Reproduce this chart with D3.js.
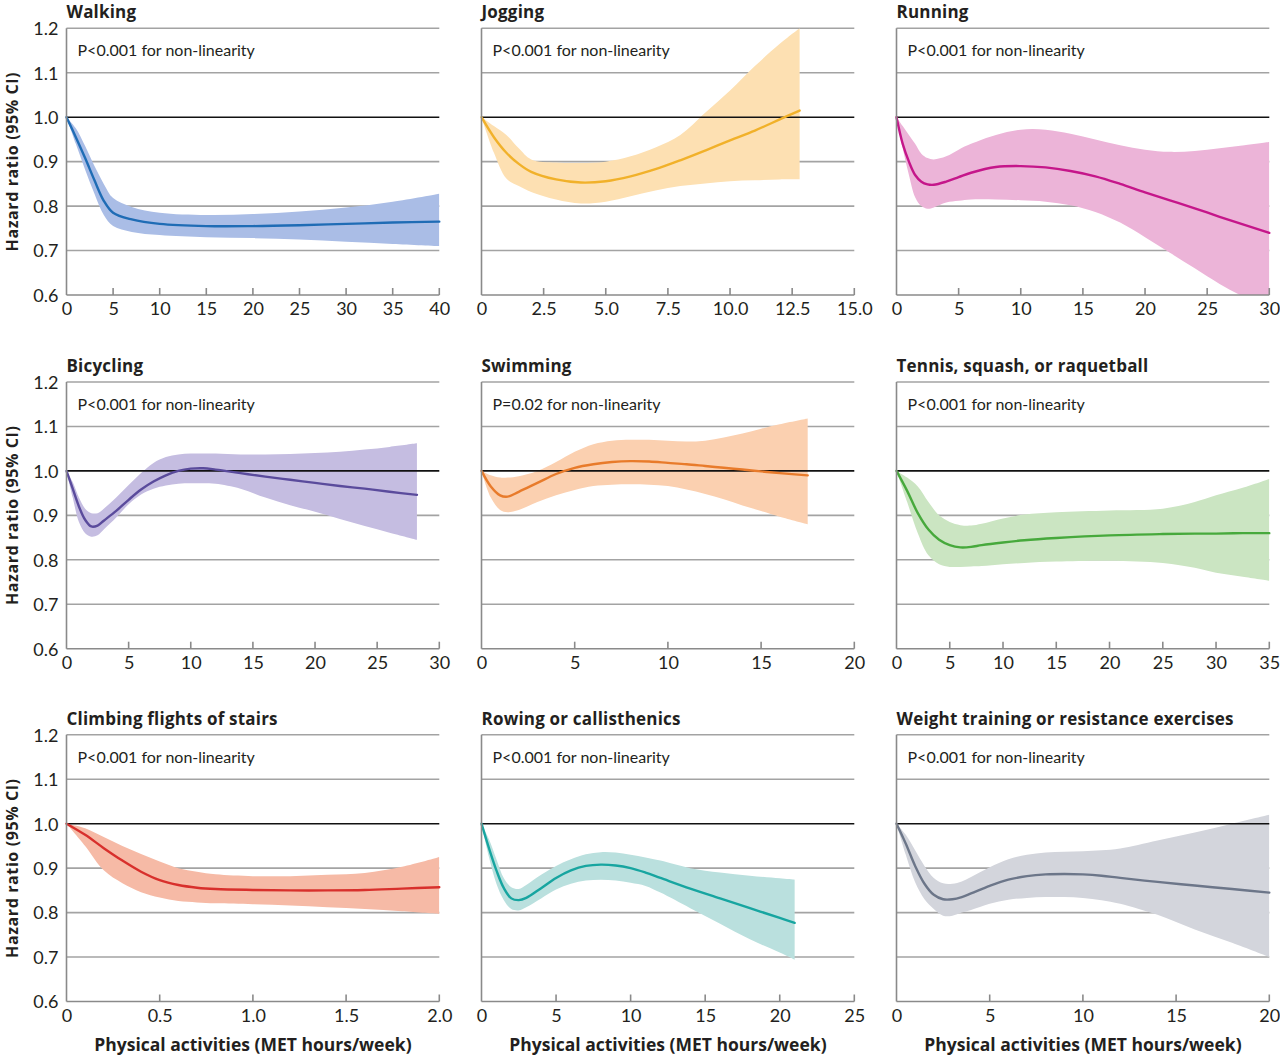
<!DOCTYPE html>
<html><head><meta charset="utf-8">
<script src="https://cdn.jsdelivr.net/npm/d3@7"></script>
<style>
html,body{margin:0;padding:0;background:#fff;}
svg{display:block;}
text{font-family:Lato,"Open Sans",sans-serif;fill:#231f20;}
.bold{font-family:"Open Sans",Lato,sans-serif;font-weight:bold;}
</style></head><body>
<svg id="chart" width="1280" height="1057"></svg>
<script>
// ---- DATA ----
const titles = ["Walking","Jogging","Running","Bicycling","Swimming","Tennis, squash, or raquetball","Climbing flights of stairs","Rowing or callisthenics","Weight training or resistance exercises"];
const pTexts = ["P<0.001 for non-linearity","P<0.001 for non-linearity","P<0.001 for non-linearity","P<0.001 for non-linearity","P=0.02 for non-linearity","P<0.001 for non-linearity","P<0.001 for non-linearity","P<0.001 for non-linearity","P<0.001 for non-linearity"];
const yTicks = [0.6,0.7,0.8,0.9,1.0,1.1,1.2];
const yTickLabels = ["0.6","0.7","0.8","0.9","1.0","1.1","1.2"];
const xMax = [40,15,30,30,20,35,2,25,20];
const xTicks = [[0,5,10,15,20,25,30,35,40],[0,2.5,5,7.5,10,12.5,15],[0,5,10,15,20,25,30],[0,5,10,15,20,25,30],[0,5,10,15,20],[0,5,10,15,20,25,30,35],[0,0.5,1,1.5,2],[0,5,10,15,20,25],[0,5,10,15,20]];
const xTickLabels = [["0","5","10","15","20","25","30","35","40"],["0","2.5","5.0","7.5","10.0","12.5","15.0"],["0","5","10","15","20","25","30"],["0","5","10","15","20","25","30"],["0","5","10","15","20"],["0","5","10","15","20","25","30","35"],["0","0.5","1.0","1.5","2.0"],["0","5","10","15","20","25"],["0","5","10","15","20"]];
const lineColors = ["#1f6cb5","#f1b12a","#c5168a","#5a4b9c","#e87b2b","#47a93c","#d8302c","#17a5a0","#6c7689"];
const bandColors = ["#aabde6","#fde0b2","#ecb4d8","#c5bde1","#fbd0b0","#cbe5c2","#f6baa6","#bae0de","#d3d5dc"];

const walkingX  = [0,1,2,3,4,5,7,10,15,20,25,30,35,40];
const walkingHR = [1.0,0.955,0.908,0.858,0.812,0.785,0.77,0.76,0.755,0.755,0.757,0.76,0.763,0.765];
const walkingHi = [1.0,0.975,0.935,0.89,0.85,0.818,0.798,0.785,0.78,0.782,0.788,0.797,0.81,0.828];
const walkingLo = [1.0,0.94,0.882,0.828,0.78,0.755,0.742,0.735,0.73,0.728,0.725,0.72,0.715,0.71];

const joggingX  = [0,0.5,1,1.5,2,3,4,5,6,7,8,9,10,11,12,12.8];
const joggingHR = [1,0.955,0.92,0.895,0.877,0.86,0.853,0.856,0.867,0.883,0.903,0.925,0.948,0.97,0.995,1.015];
const joggingHi = [1,0.98,0.96,0.93,0.905,0.898,0.897,0.9,0.912,0.932,0.96,1.01,1.06,1.115,1.165,1.2];
const joggingLo = [1,0.92,0.862,0.845,0.832,0.815,0.806,0.81,0.822,0.835,0.845,0.851,0.856,0.858,0.86,0.86];

const runningX  = [0,0.5,1,1.5,2,2.5,3,4,5,6,8,10,12,14,16,18,20,22,24,26,28,30];
const runningHR = [1,0.94,0.9,0.87,0.855,0.849,0.848,0.855,0.865,0.875,0.888,0.89,0.887,0.879,0.867,0.85,0.831,0.813,0.795,0.776,0.758,0.74];
const runningHi = [1,0.98,0.96,0.94,0.918,0.908,0.905,0.912,0.927,0.94,0.96,0.972,0.972,0.963,0.95,0.937,0.927,0.922,0.924,0.93,0.937,0.944];
const runningLo = [1,0.93,0.87,0.82,0.8,0.794,0.797,0.808,0.812,0.815,0.815,0.813,0.81,0.802,0.787,0.763,0.73,0.695,0.66,0.625,0.595,0.57];

const bicyclingX  = [0,0.5,1,1.5,2,2.5,3,4,5,6,7,8,9,10,11,12,14,16,18,20,22,24,26,28.2];
const bicyclingHR = [1,0.96,0.92,0.89,0.875,0.877,0.888,0.91,0.935,0.958,0.976,0.99,1.0,1.005,1.006,1.003,0.995,0.987,0.98,0.973,0.966,0.96,0.953,0.946];
const bicyclingHi = [1,0.975,0.94,0.915,0.905,0.905,0.915,0.94,0.968,0.995,1.018,1.031,1.037,1.039,1.039,1.039,1.037,1.037,1.038,1.04,1.043,1.048,1.054,1.062];
const bicyclingLo = [1,0.94,0.885,0.86,0.852,0.855,0.868,0.895,0.925,0.947,0.96,0.967,0.971,0.972,0.972,0.971,0.96,0.94,0.923,0.908,0.892,0.876,0.861,0.845];

const swimmingX  = [0,0.5,1,1.4,2,3,4,5,6,7,8,9,10,11,12,13,14,15,16,17.5];
const swimmingHR = [1,0.965,0.945,0.942,0.953,0.973,0.993,1.007,1.015,1.02,1.022,1.021,1.018,1.015,1.011,1.007,1.003,0.999,0.995,0.99];
const swimmingHi = [1,0.99,0.985,0.985,0.988,1.0,1.02,1.043,1.06,1.068,1.07,1.07,1.068,1.066,1.068,1.075,1.084,1.095,1.105,1.118];
const swimmingLo = [1,0.94,0.912,0.907,0.912,0.93,0.945,0.957,0.966,0.969,0.97,0.969,0.966,0.958,0.948,0.936,0.922,0.91,0.897,0.88];

const tennisX  = [0,1,2,3,4,5,6,7,8,10,12,15,20,25,28,30,32.5,35];
const tennisHR = [1,0.955,0.905,0.868,0.845,0.833,0.828,0.829,0.833,0.839,0.844,0.849,0.855,0.858,0.859,0.859,0.86,0.86];
const tennisHi = [1,0.985,0.965,0.93,0.9,0.885,0.878,0.877,0.881,0.893,0.902,0.907,0.911,0.915,0.93,0.945,0.962,0.982];
const tennisLo = [1,0.93,0.86,0.81,0.79,0.784,0.784,0.785,0.786,0.79,0.793,0.796,0.798,0.793,0.782,0.771,0.762,0.753];

const stairsX  = [0,0.1,0.2,0.3,0.4,0.5,0.6,0.7,0.8,1.0,1.2,1.4,1.6,1.8,2.0];
const stairsHR = [1,0.975,0.945,0.917,0.892,0.873,0.862,0.856,0.853,0.851,0.85,0.85,0.851,0.854,0.857];
const stairsHi = [1,0.99,0.97,0.95,0.932,0.915,0.9,0.892,0.886,0.882,0.882,0.885,0.889,0.903,0.925];
const stairsLo = [1,0.95,0.895,0.866,0.846,0.834,0.826,0.823,0.821,0.819,0.816,0.812,0.808,0.803,0.797];

const rowingX  = [0,0.5,1,1.5,2,2.5,3,4,5,6,7,8,9,10,11,12,14,16,18,20,21];
const rowingHR = [1,0.945,0.895,0.855,0.832,0.828,0.833,0.855,0.878,0.895,0.905,0.908,0.906,0.9,0.89,0.878,0.854,0.832,0.81,0.788,0.777];
const rowingHi = [1,0.965,0.92,0.877,0.857,0.853,0.862,0.885,0.905,0.92,0.931,0.936,0.935,0.93,0.924,0.917,0.9,0.89,0.883,0.877,0.874];
const rowingLo = [1,0.925,0.865,0.828,0.808,0.805,0.812,0.832,0.852,0.865,0.872,0.874,0.872,0.867,0.86,0.845,0.81,0.775,0.74,0.71,0.694];

const weightX  = [0,0.5,1,1.5,2,2.5,3,3.5,4,5,6,7,8,9,10,11,12,14,16,18,20];
const weightHR = [1,0.955,0.905,0.865,0.84,0.83,0.83,0.835,0.843,0.86,0.874,0.882,0.886,0.887,0.886,0.883,0.878,0.869,0.861,0.853,0.845];
const weightHi = [1,0.975,0.94,0.905,0.878,0.866,0.865,0.87,0.88,0.902,0.92,0.93,0.935,0.937,0.938,0.94,0.944,0.962,0.98,1.0,1.02];
const weightLo = [1,0.93,0.868,0.83,0.808,0.793,0.793,0.8,0.806,0.82,0.829,0.833,0.835,0.835,0.833,0.828,0.82,0.795,0.762,0.732,0.7];

const xLabel = "Physical activities (MET hours/week)";
const yLabel = "Hazard ratio (95% CI)";

// ---- DRAW ----
const series = [
  [walkingX,walkingHR,walkingLo,walkingHi],
  [joggingX,joggingHR,joggingLo,joggingHi],
  [runningX,runningHR,runningLo,runningHi],
  [bicyclingX,bicyclingHR,bicyclingLo,bicyclingHi],
  [swimmingX,swimmingHR,swimmingLo,swimmingHi],
  [tennisX,tennisHR,tennisLo,tennisHi],
  [stairsX,stairsHR,stairsLo,stairsHi],
  [rowingX,rowingHR,rowingLo,rowingHi],
  [weightX,weightHR,weightLo,weightHi]
];
const svg = d3.select("#chart");
const colLeft = [66.5, 481.5, 896.5];
const rowTop = [28.3, 382, 734.8];
const W = 372.8, H = 266.7;
const gridColor = "#a3a3a3";
const curve = d3.curveCatmullRom.alpha(0.5);

series.forEach((s, i) => {
  const col = i % 3, row = Math.floor(i / 3);
  const g = svg.append("g").attr("transform", `translate(${colLeft[col]},${rowTop[row]})`);
  const x = d3.scaleLinear().domain([0, xMax[i]]).range([0, W]);
  const y = d3.scaleLinear().domain([0.6, 1.2]).range([H, 0]);

  const cid = "clip" + i;
  g.append("clipPath").attr("id", cid).append("rect").attr("x", 0).attr("y", 0).attr("width", W).attr("height", H);

  g.selectAll("line.grid").data(yTicks.filter(t => t > 0.6 && Math.abs(t - 1) > 1e-9)).join("line")
    .attr("x1", 0).attr("x2", W).attr("y1", d => y(d)).attr("y2", d => y(d))
    .attr("stroke", gridColor).attr("stroke-width", 1.6);

  const [xs, hr, lo, hi] = s;
  const pts = xs.map((v, k) => ({x: v, hr: hr[k], lo: lo[k], hi: hi[k]}));
  const area = d3.area().x(d => x(d.x)).y0(d => y(d.lo)).y1(d => y(d.hi)).curve(curve);
  const line = d3.line().x(d => x(d.x)).y(d => y(d.hr)).curve(curve);

  g.append("path").datum(pts).attr("d", area).attr("fill", bandColors[i]).attr("clip-path", `url(#${cid})`);

  g.append("line").attr("x1", 0).attr("x2", W).attr("y1", y(1)).attr("y2", y(1))
    .attr("stroke", "#111").attr("stroke-width", 1.6);

  g.append("path").datum(pts).attr("d", line).attr("fill", "none")
    .attr("stroke", lineColors[i]).attr("stroke-width", 2.4).attr("stroke-linecap", "round");

  const xAxis = d3.axisBottom(x).tickValues(xTicks[i]).tickSize(0).tickFormat((d, k) => xTickLabels[i][k]);
  const xa = g.append("g").attr("transform", `translate(0,${H})`).call(xAxis);
  xa.select(".domain").remove();
  xa.selectAll(".tick text").attr("dy", 0).attr("y", 20).attr("font-size", 18).attr("font-family", "Lato").attr("fill", "#231f20");
  g.append("line").attr("x1", 0).attr("x2", W).attr("y1", H).attr("y2", H).attr("stroke", "#8a8a8a").attr("stroke-width", 1.6);
  g.selectAll("line.xt").data(xTicks[i].filter(t => t > 0)).join("line")
    .attr("x1", d => x(d)).attr("x2", d => x(d)).attr("y1", H).attr("y2", H - 7)
    .attr("stroke", "#8a8a8a").attr("stroke-width", 1.6);
  g.append("line").attr("x1", 0).attr("x2", 0).attr("y1", 0).attr("y2", H).attr("stroke", "#8a8a8a").attr("stroke-width", 1.6);

  if (col === 0) {
    const yAxis = d3.axisLeft(y).tickValues(yTicks).tickSize(0).tickFormat((d, k) => yTickLabels[k]);
    const ya = g.append("g").call(yAxis);
    ya.select(".domain").remove();
    ya.selectAll(".tick text").attr("x", -8).attr("dy", "0.35em").attr("font-size", 18).attr("font-family", "Lato").attr("fill", "#231f20");
    g.append("text").attr("class", "bold").attr("transform", `translate(${-54},${H / 2}) rotate(-90)`)
      .attr("text-anchor", "middle").attr("dy", "0.35em").attr("font-size", 16)
      .attr("letter-spacing", "0.6px").text(yLabel);
  }

  g.append("text").attr("class", "bold").attr("x", 0).attr("y", -10).attr("font-size", 17)
    .attr("letter-spacing", "0.2px").text(titles[i]);
  g.append("text").attr("x", 11).attr("y", 28).attr("font-size", 16).text(pTexts[i]);

  if (row === 2) {
    g.append("text").attr("class", "bold").attr("x", W / 2).attr("y", H + 50).attr("text-anchor", "middle")
      .attr("font-size", 17.5).text(xLabel);
  }
});
</script>
</body></html>
